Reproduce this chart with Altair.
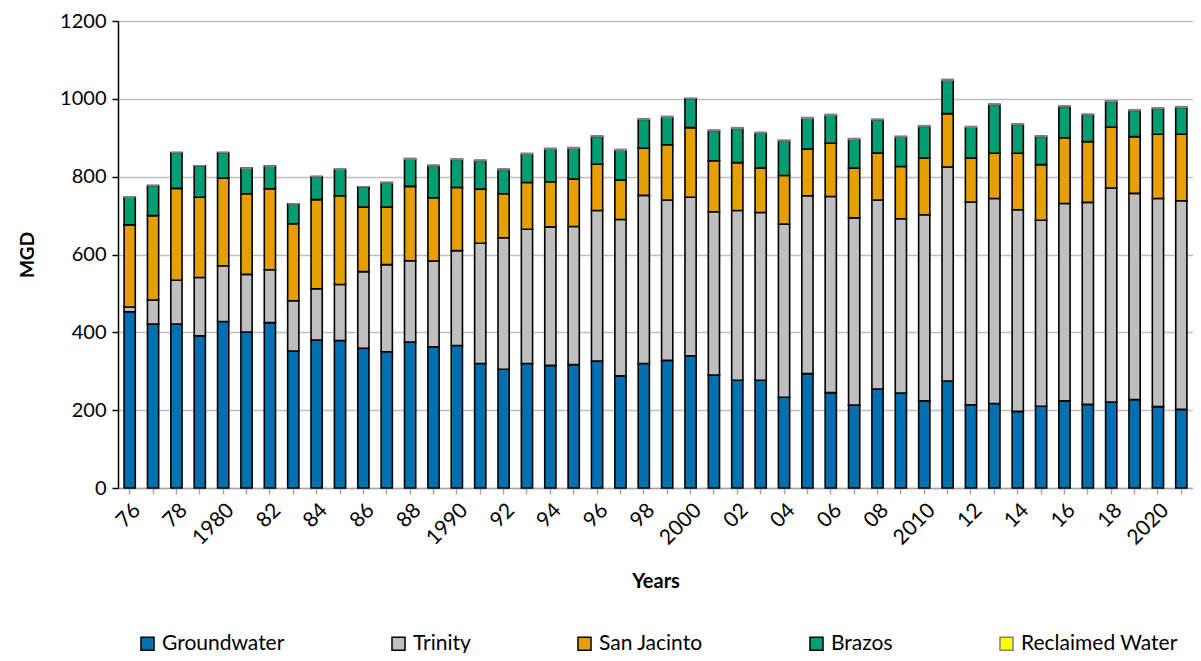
import altair as alt
import pandas as pd

years = list(range(1976, 2022))

groundwater = [453, 421, 421, 391, 428, 401, 425, 352, 380, 379, 359, 350, 375, 363, 366, 320,
               305, 320, 315, 317, 326, 288, 320, 328, 340, 290, 277, 277, 233, 294, 245, 213,
               254, 244, 224, 275, 214, 217, 197, 210, 224, 215, 221, 227, 209, 202]
trinity = [12, 62, 113, 150, 143, 148, 136, 129, 132, 144, 197, 224, 209, 220, 244, 309,
           338, 345, 356, 355, 387, 402, 432, 412, 407, 420, 436, 431, 445, 457, 504, 481,
           486, 448, 478, 550, 521, 527, 518, 478, 507, 519, 550, 530, 535, 536]
san_jacinto = [211, 217, 236, 206, 225, 207, 208, 198, 229, 228, 166, 148, 191, 163, 162, 139,
               113, 120, 116, 122, 119, 101, 121, 142, 179, 131, 123, 114, 125, 120, 137, 128,
               121, 134, 146, 137, 113, 116, 145, 143, 169, 156, 156, 146, 165, 171]
brazos = [71, 77, 92, 81, 66, 66, 58, 51, 59, 68, 52, 62, 70, 82, 72, 73,
          62, 73, 84, 79, 71, 77, 74, 71, 75, 77, 88, 90, 89, 79, 72, 74,
          85, 76, 81, 86, 79, 125, 74, 72, 80, 69, 66, 67, 66, 69]
reclaimed = [0, 0, 0, 0, 0, 0, 0, 0, 0, 0, 0, 2, 2, 2, 2, 2,
             2, 2, 2, 2, 2, 2, 2, 2, 0, 2, 2, 2, 2, 2, 2, 2,
             2, 2, 2, 2, 2, 2, 2, 2, 2, 2, 2, 2, 2, 2]

series = ["Groundwater", "Trinity", "San Jacinto", "Brazos", "Reclaimed Water"]
fills = ["#0070B0", "#BFBFBF", "#E69F00", "#009E73", "#FFFF00"]
strokes = ["#000000", "#000000", "#000000", "#000000", "#808080"]
values = [groundwater, trinity, san_jacinto, brazos, reclaimed]

rows = []
for i, yr in enumerate(years):
    for k, name in enumerate(series):
        rows.append({"Year": yr, "Source": name, "MGD": values[k][i], "ord": k})
df = pd.DataFrame(rows)

FONT = "Lato"

label_expr = ("datum.value % 2 == 0 ? (datum.value % 10 == 0 ? '' + datum.value : "
              "substring('' + datum.value, 2)) : ''")

legend_kw = dict(
    title=None,
    orient="none",
    direction="horizontal",
    columns=5,
    legendX=19,
    legendY=612,
    symbolType="square",
    symbolSize=170,
    symbolStrokeWidth=1.5,
    labelFont=FONT,
    labelFontSize=21,
    labelColor="#000000",
    labelLimit=400,
    columnPadding=103,
    labelOffset=4,
)

chart = alt.Chart(df).mark_bar(strokeWidth=1.6).encode(
    x=alt.X(
        "Year:O",
        scale=alt.Scale(paddingInner=0.52, paddingOuter=0.26),
        axis=alt.Axis(
            title="Years",
            labelAngle=-45,
            labelExpr=label_expr,
            labelFont=FONT,
            labelFontSize=21,
            labelColor="#000000",
            labelPadding=5,
            titleFont=FONT,
            titleFontSize=20,
            titleFontWeight="bold",
            titleColor="#000000",
            titlePadding=23,
            domainColor="#A6A6A6",
            domainWidth=1.5,
            tickColor="#A6A6A6",
            tickWidth=1.5,
            tickSize=6,
            grid=False,
        ),
    ),
    y=alt.Y(
        "MGD:Q",
        stack="zero",
        scale=alt.Scale(domain=[0, 1200]),
        axis=alt.Axis(
            title="MGD",
            values=[0, 200, 400, 600, 800, 1000, 1200],
            format="d",
            labelFont=FONT,
            labelFontSize=20,
            labelColor="#000000",
            labelPadding=6,
            titleFont=FONT,
            titleFontSize=19,
            titleFontWeight="bold",
            titleColor="#000000",
            titlePadding=22,
            domainColor="#000000",
            domainWidth=1.5,
            tickColor="#000000",
            tickWidth=1.5,
            tickSize=6,
            grid=True,
            gridColor="#BFBFBF",
            gridWidth=1.5,
        ),
    ),
    color=alt.Color("Source:N", scale=alt.Scale(domain=series, range=fills),
                    legend=alt.Legend(**legend_kw)),
    stroke=alt.Stroke("Source:N", scale=alt.Scale(domain=series, range=strokes),
                      legend=alt.Legend(**legend_kw)),
    order=alt.Order("ord:Q"),
).properties(
    width=1075,
    height=467,
    autosize=alt.AutoSizeParams(type="none"),
    padding={"left": 110, "top": 13, "right": 0, "bottom": 165},
).configure_view(stroke=None).configure(font=FONT)

chart.save("out.html", embed_options={"renderer": "svg", "actions": False})
